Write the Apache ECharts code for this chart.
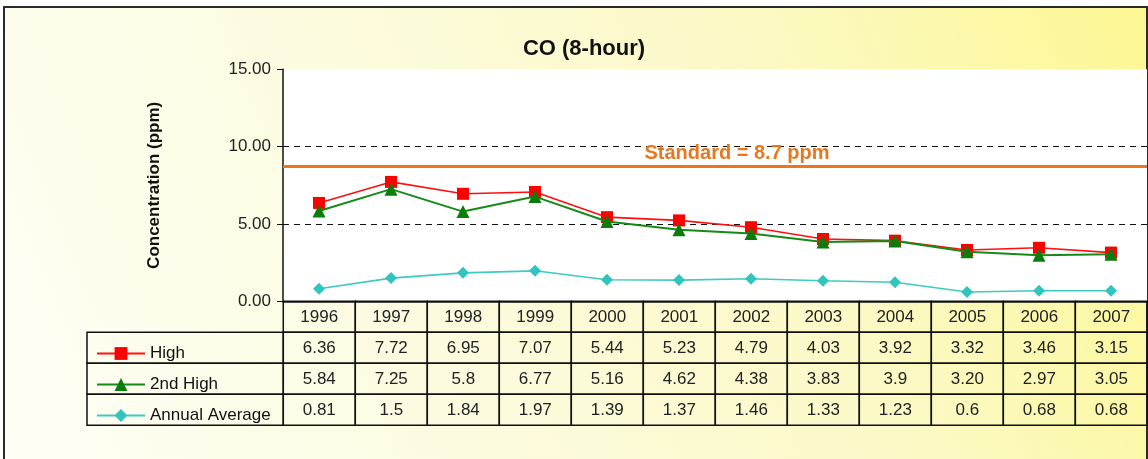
<!DOCTYPE html>
<html>
<head>
<meta charset="utf-8">
<script src="https://cdn.jsdelivr.net/npm/echarts@6/dist/echarts.min.js"></script>
<style>
  html, body { margin: 0; padding: 0; background: #fff; }
  #chart { width: 1148px; height: 459px; }
</style>
</head>
<body>
<div id="chart"></div>
<script>
// values as printed in the data table
var years = ['1996', '1997', '1998', '1999', '2000', '2001', '2002', '2003', '2004', '2005', '2006', '2007'];
var high = ['6.36', '7.72', '6.95', '7.07', '5.44', '5.23', '4.79', '4.03', '3.92', '3.32', '3.46', '3.15'];
var secondHigh = ['5.84', '7.25', '5.8', '6.77', '5.16', '4.62', '4.38', '3.83', '3.9', '3.20', '2.97', '3.05'];
var annualAvg = ['0.81', '1.5', '1.84', '1.97', '1.39', '1.37', '1.46', '1.33', '1.23', '0.6', '0.68', '0.68'];
var seriesNames = ['High', '2nd High', 'Annual Average'];
var standardValue = 8.7;

var font = 'Arial, "Liberation Sans", sans-serif';
var legendColW = 2.726; // width of the legend column in table column units

// cells of the table: [x0, x1, row], text kept alongside
var cells = [];
var cellText = [];
years.forEach(function (y, i) { cells.push([i, i + 1, 0]); cellText.push(y); });
[high, secondHigh, annualAvg].forEach(function (arr, r) {
    cells.push([-legendColW, 0, r + 1]);
    cellText.push('');
    arr.forEach(function (v, i) { cells.push([i, i + 1, r + 1]); cellText.push(v); });
});

var myChart = echarts.init(document.getElementById('chart'));
var option = {
    animation: false,
    backgroundColor: '#fff',
    graphic: [{
        type: 'rect',
        z: -10,
        shape: { x: 4, y: 7, width: 1143, height: 470 },
        style: {
            fill: new echarts.graphic.LinearGradient(0, 1, 1, 0, [
                { offset: 0, color: '#fefef6' },
                { offset: 0.35, color: '#fcfbe0' },
                { offset: 0.7, color: '#fbf9c4' },
                { offset: 1, color: '#fdf792' }
            ]),
            stroke: '#2a2a2a',
            lineWidth: 2
        }
    }],
    title: {
        text: 'CO (8-hour)',
        left: 579,
        top: 33,
        textAlign: 'center',
        textStyle: { fontFamily: font, fontSize: 22, fontWeight: 'bold', color: '#111' }
    },
    legend: {
        orient: 'vertical',
        left: 91,
        top: 340,
        itemWidth: 48,
        itemHeight: 16,
        itemGap: 14,
        data: seriesNames,
        textStyle: { fontFamily: font, fontSize: 17, color: '#111', lineHeight: 17 }
    },
    grid: [
        { left: 283, top: 69.3, width: 864, height: 232, show: true, backgroundColor: '#fff', borderWidth: 0 },
        { left: 87, top: 301.3, width: 1060.3, height: 124 }
    ],
    xAxis: [
        {
            type: 'category', gridIndex: 0, data: years, boundaryGap: true,
            axisLine: { lineStyle: { color: '#111', width: 1.5 } },
            axisTick: { show: false }, axisLabel: { show: false }
        },
        { type: 'value', gridIndex: 1, min: -legendColW, max: 12, show: false }
    ],
    yAxis: [
        {
            type: 'value', gridIndex: 0, min: 0, max: 15, interval: 5,
            name: 'Concentration (ppm)', nameLocation: 'middle', nameGap: 120,
            nameTextStyle: { fontFamily: font, fontSize: 17, fontWeight: 'bold', color: '#111' },
            axisLine: { show: true, lineStyle: { color: '#111', width: 1.5 } },
            axisTick: { show: true, length: 6, lineStyle: { color: '#111' } },
            axisLabel: {
                margin: 12, fontFamily: font, fontSize: 17, color: '#222',
                formatter: function (v) { return v.toFixed(2); }
            },
            splitLine: {
                show: true, showMinLine: false, showMaxLine: false,
                lineStyle: { color: '#111', type: [6, 5], width: 1.2 }
            }
        },
        { type: 'value', gridIndex: 1, min: 0, max: 4, inverse: true, show: false }
    ],
    series: [
        {
            name: 'High', type: 'line', data: high.map(Number),
            symbol: 'rect', symbolSize: 12,
            itemStyle: { color: '#ff0000' },
            lineStyle: { color: '#ff1010', width: 1.6 },
            z: 4,
            markLine: {
                silent: true, symbol: 'none',
                data: [{ yAxis: standardValue }],
                lineStyle: { color: '#e8771e', width: 3, type: 'solid' },
                label: {
                    position: 'insideMiddleTop',
                    formatter: 'Standard = ' + standardValue + ' ppm',
                    color: '#e8771e', fontFamily: font, fontSize: 20, fontWeight: 'bold',
                    padding: [0, 0, 0, 44], distance: 3
                }
            }
        },
        {
            name: '2nd High', type: 'line', data: secondHigh.map(Number),
            symbol: 'triangle', symbolSize: 13,
            itemStyle: { color: '#0b7d0b' },
            lineStyle: { color: '#168a16', width: 2 },
            z: 5
        },
        {
            name: 'Annual Average', type: 'line', data: annualAvg.map(Number),
            symbol: 'diamond', symbolSize: 12,
            itemStyle: { color: '#2fc4bc' },
            lineStyle: { color: '#3ccbc3', width: 1.6 },
            z: 3
        },
        {
            type: 'custom', xAxisIndex: 1, yAxisIndex: 1,
            data: cells, silent: true,
            encode: { x: [0, 1], y: 2 },
            renderItem: function (params, api) {
                var p0 = api.coord([api.value(0), api.value(2)]);
                var p1 = api.coord([api.value(1), api.value(2) + 1]);
                return {
                    type: 'group',
                    children: [
                        {
                            type: 'rect',
                            shape: { x: p0[0], y: p0[1], width: p1[0] - p0[0], height: p1[1] - p0[1] },
                            style: { fill: 'rgba(0,0,0,0)', stroke: '#111', lineWidth: 1.5 }
                        },
                        {
                            type: 'text',
                            style: {
                                text: cellText[params.dataIndex],
                                x: (p0[0] + p1[0]) / 2, y: (p0[1] + p1[1]) / 2 + 1,
                                align: 'center', verticalAlign: 'middle',
                                font: '17px ' + font, fill: '#222'
                            }
                        }
                    ]
                };
            }
        }
    ]
};
myChart.setOption(option);
</script>
</body>
</html>
